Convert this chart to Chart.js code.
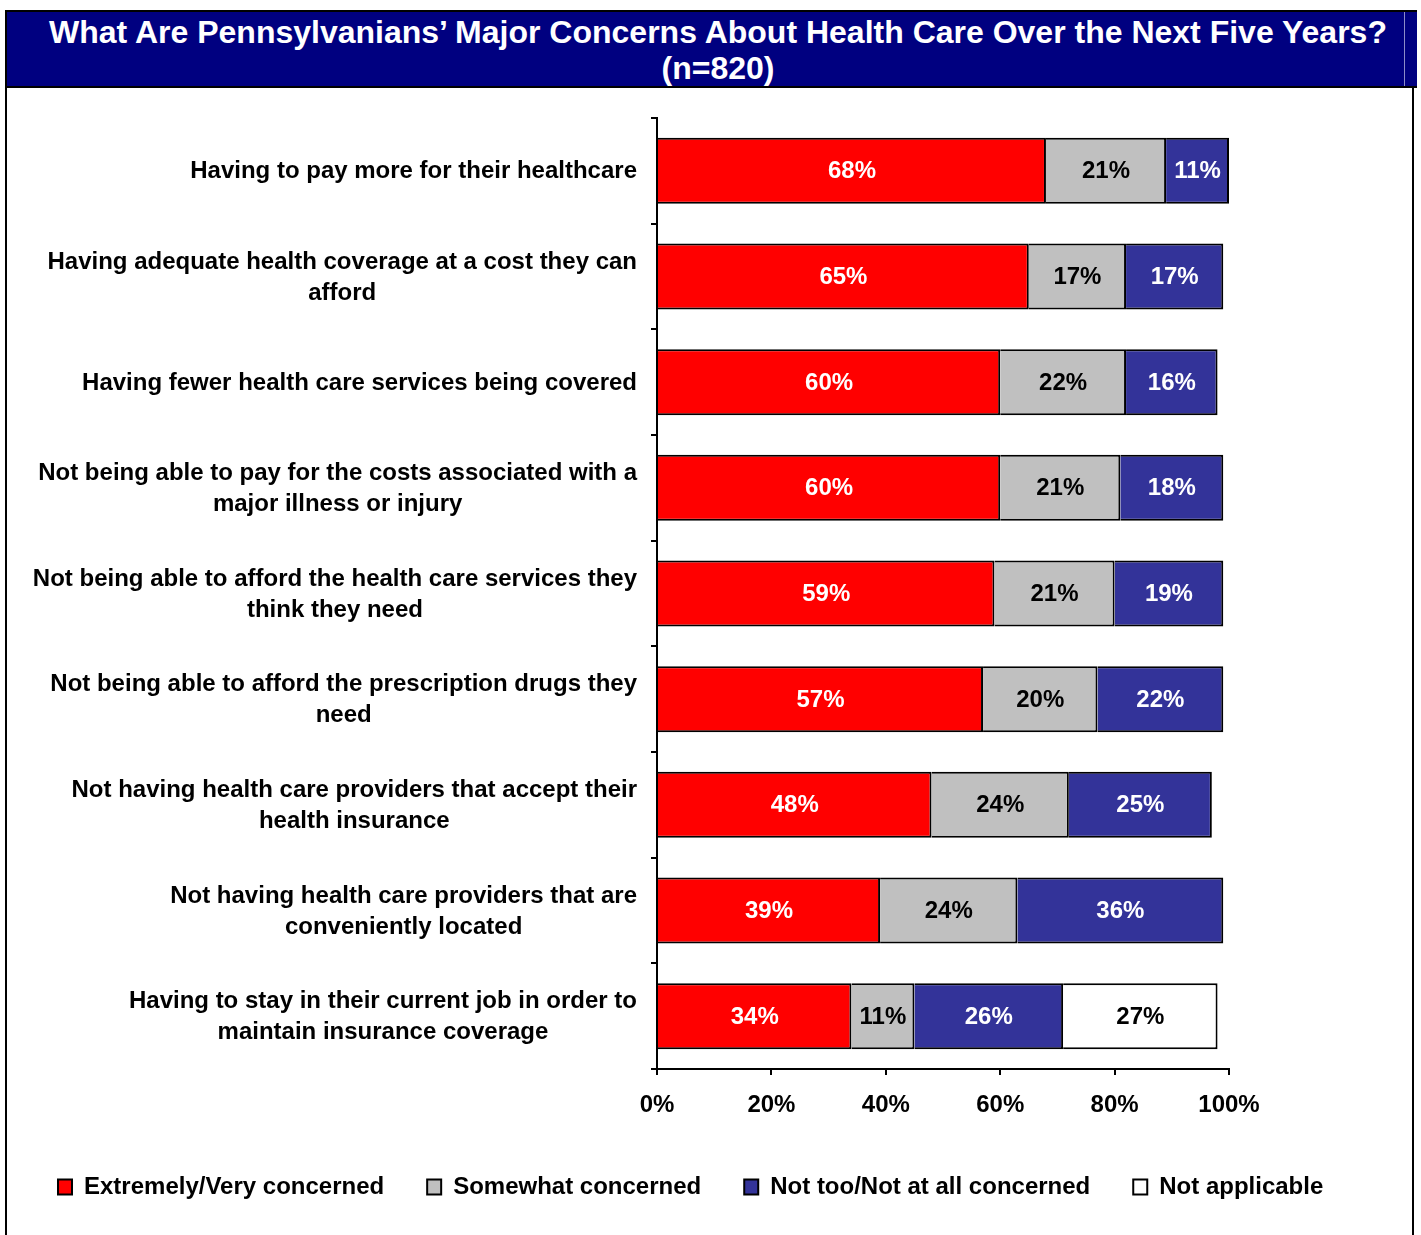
<!DOCTYPE html>
<html>
<head>
<meta charset="utf-8">
<script src="https://cdn.jsdelivr.net/npm/chart.js@4.4.1/dist/chart.umd.min.js"></script>
<style>
  body { margin: 0; background: #fff; font-family: "Liberation Sans", Arial, sans-serif; }
  #title {
    position: absolute; left: 5px; top: 10px; width: 1398px; height: 74px;
    padding-left: 12px;
    background: #000080; color: #fff;
    border-top: 2px solid #000; border-left: 2px solid #000; border-bottom: 2px solid #000;
    font-weight: bold; font-size: 32px; line-height: 36px; text-align: center;
    box-shadow: inset -12px 0 0 #000080, inset -13px 0 0 #8c8cc8;
  }
  #title div { padding-top: 2px; }
  #frame {
    position: absolute; left: 5px; top: 88px; width: 1405px; height: 1160px;
    border-left: 2px solid #000; border-right: 2px solid #000;
  }
  canvas { display: block; }
</style>
</head>
<body>
<div id="title"><div>What Are Pennsylvanians’ Major Concerns About Health Care Over the Next Five Years?<br>(n=820)</div></div>
<div id="frame"><canvas id="concernChart" width="1405" height="1147"></canvas></div>
<script>
// Kategoriler (çok satırlı etiketler)
const categories = [
    ['Having to pay more for their healthcare'],
    ['Having adequate health coverage at a cost they can', 'afford'],
    ['Having fewer health care services being covered'],
    ['Not being able to pay for the costs associated with a', 'major illness or injury'],
    ['Not being able to afford the health care services they', 'think they need'],
    ['Not being able to afford the prescription drugs they', 'need'],
    ['Not having health care providers that accept their', 'health insurance'],
    ['Not having health care providers that are', 'conveniently located'],
    ['Having to stay in their current job in order to', 'maintain insurance coverage']
];

const extremelyVery = [68, 65, 60, 60, 59, 57, 48, 39, 34];
const somewhat = [21, 17, 22, 21, 21, 20, 24, 24, 11];
const notTooNotAtAll = [11, 17, 16, 18, 19, 22, 25, 36, 26];
const notApplicable = [null, null, null, null, null, null, null, null, 27];

const xTicks = [0, 20, 40, 60, 80, 100];

const FONT = '"Liberation Sans", Arial, sans-serif';
const labelColors = ['#ffffff', '#000000', '#ffffff', '#000000'];

// Çubukların ortasına yüzde değerlerini yaz
const valueLabels = {
    id: 'valueLabels',
    afterDatasetsDraw(chart) {
        const ctx = chart.ctx;
        ctx.save();
        ctx.font = 'bold 24px ' + FONT;
        ctx.textAlign = 'center';
        ctx.textBaseline = 'middle';
        chart.data.datasets.forEach((ds, di) => {
            const meta = chart.getDatasetMeta(di);
            meta.data.forEach((bar, i) => {
                const v = ds.data[i];
                if (v === null || v === undefined) return;
                ctx.fillStyle = labelColors[di];
                ctx.fillText(v + '%', (bar.x + bar.base) / 2, bar.y + 1);
            });
        });
        ctx.restore();
    }
};

// Y ekseni etiketleri: blok sağa yaslı, satırlar ortalı
const categoryLabels = {
    id: 'categoryLabels',
    afterDraw(chart) {
        const ctx = chart.ctx;
        const yScale = chart.scales.y;
        const right = yScale.right - 20;
        const lineH = 31;
        ctx.save();
        ctx.font = 'bold 24px ' + FONT;
        ctx.fillStyle = '#000';
        ctx.textAlign = 'center';
        ctx.textBaseline = 'middle';
        categories.forEach((lines, i) => {
            const yc = yScale.getPixelForTick(i);
            const w = Math.max(...lines.map(l => ctx.measureText(l).width));
            const cx = right - w / 2;
            const y0 = yc - (lines.length - 1) * lineH / 2;
            lines.forEach((l, k) => ctx.fillText(l, cx, y0 + k * lineH + 1));
        });
        ctx.restore();
    }
};

const ctx = document.getElementById('concernChart').getContext('2d');

new Chart(ctx, {
    type: 'bar',
    data: {
        labels: categories,
        datasets: [
            { label: 'Extremely/Very concerned', data: extremelyVery, backgroundColor: '#ff0000' },
            { label: 'Somewhat concerned', data: somewhat, backgroundColor: '#c0c0c0' },
            { label: 'Not too/Not at all concerned', data: notTooNotAtAll, backgroundColor: '#333399' },
            { label: 'Not applicable', data: notApplicable, backgroundColor: '#ffffff' }
        ].map(ds => Object.assign(ds, {
            xAxisID: 'x',
            yAxisID: 'y',
            borderColor: '#000',
            borderWidth: 2,
            borderSkipped: 'start',
            categoryPercentage: 1,
            barPercentage: 0.625
        }))
    },
    options: {
        indexAxis: 'y',
        responsive: false,
        animation: false,
        events: [],
        layout: { padding: { top: 30, left: 8, right: 0, bottom: 26 } },
        scales: {
            y: {
                stacked: true,
                z: 1,
                border: { display: true, color: '#000', width: 2 },
                grid: { offset: true, drawOnChartArea: false, tickLength: 6, color: '#000', lineWidth: 2 },
                ticks: { display: false },
                afterFit(scale) { scale.width = 642; }
            },
            x: {
                stacked: true,
                min: 0,
                max: 100,
                z: 1,
                border: { display: true, color: '#000', width: 2 },
                grid: { drawOnChartArea: false, tickLength: 6, color: '#000', lineWidth: 2 },
                afterBuildTicks(scale) { scale.ticks = xTicks.map(v => ({ value: v })); },
                ticks: {
                    padding: 16,
                    color: '#000',
                    font: { family: FONT, size: 24, weight: 'bold' },
                    maxRotation: 0,
                    callback: v => v + '%'
                },
                afterFit(scale) { scale.height = 63; }
            },
            // sağ boşluk için görünmez eksen
            pad: {
                type: 'linear',
                axis: 'y',
                position: 'right',
                grid: { display: false },
                border: { display: false },
                ticks: { display: false },
                afterFit(scale) { scale.width = 183; }
            }
        },
        plugins: {
            legend: {
                position: 'bottom',
                align: 'start',
                labels: {
                    boxWidth: 14,
                    boxHeight: 15,
                    padding: 43,
                    color: '#000',
                    font: { family: FONT, size: 24, weight: 'bold' }
                }
            },
            title: { display: false },
            tooltip: { enabled: false }
        }
    },
    plugins: [valueLabels, categoryLabels]
});
</script>
</body>
</html>
